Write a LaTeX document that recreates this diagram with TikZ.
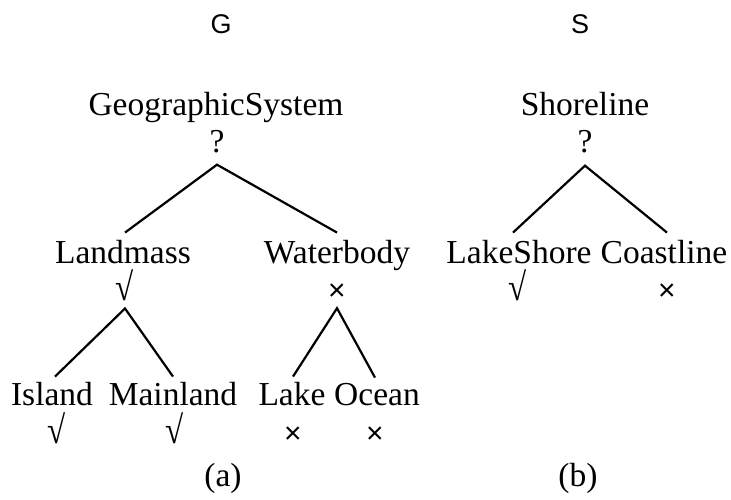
\documentclass[tikz,border=0pt]{standalone}
\usepackage{fontspec}
\usepackage{graphicx}
\setmainfont{Liberation Serif}
\newfontfamily\marksf{Liberation Sans}
\newcommand{\chk}{\scalebox{1.1}[1.3]{√}}
\begin{document}
\begin{tikzpicture}[x=1pt,y=-1pt,
  lbl/.style={font=\fontsize{33.5}{40}\selectfont, anchor=base, inner sep=0pt},
  mk/.style={font=\marksf\fontsize{30}{34}\selectfont, anchor=base, inner sep=0pt},
  ck/.style={font=\fontsize{30}{34}\selectfont, anchor=base, inner sep=0pt},
  qm/.style={font=\fontsize{33.5}{40}\selectfont, anchor=base, inner sep=0pt},
  ttl/.style={font=\marksf\fontsize{27}{30}\selectfont, anchor=base, inner sep=0pt},
  edge/.style={line width=2.2pt}]
\useasboundingbox (0,0) rectangle (731,499);
% titles
\node[ttl] (tG) at (221,33) {G};
\node[ttl] (tS) at (580,33) {S};
% tree (a)
\node[lbl] (gs) at (216,115) {GeographicSystem};
\node[qm]  (gsq) at (217,152) {?};
\node[lbl] (lm) at (123,263) {Landmass};
\node[ck]  (lmq) at (125,300) {\chk};
\node[lbl] (wb) at (337,263) {Waterbody};
\node[mk]  (wbq) at (337,300) {×};
\node[lbl] (isl) at (52,405) {Island};
\node[ck]  (islq) at (57,443) {\chk};
\node[lbl] (ml) at (173,405) {Mainland};
\node[ck]  (mlq) at (175,443) {\chk};
\node[lbl] (lk) at (292,405) {Lake};
\node[mk]  (lkq) at (293,443) {×};
\node[lbl] (oc) at (377,405) {Ocean};
\node[mk]  (ocq) at (375,443) {×};
% tree (b)
\node[lbl] (sh) at (585,115) {Shoreline};
\node[qm]  (shq) at (585,152) {?};
\node[lbl] (ls) at (519,263) {LakeShore};
\node[ck]  (lsq) at (518,300) {\chk};
\node[lbl] (cl) at (664,263) {Coastline};
\node[mk]  (clq) at (667,300) {×};
% captions
\node[lbl] (capa) at (223,486) {(a)};
\node[lbl] (capb) at (578,486) {(b)};
% apexes
\coordinate (gsA) at ([yshift=-12pt]gsq.south);
\coordinate (lmA) at ([yshift=-8pt]lmq.south);
\coordinate (wbA) at ([yshift=-8pt]wbq.south);
\coordinate (shA) at ([yshift=-13pt]shq.south);
% edges
\draw[edge] ([xshift=2pt,yshift=7pt]lm.north) -- (gsA) -- ([yshift=7pt]wb.north);
\draw[edge] ([xshift=3pt,yshift=5pt]isl.north) -- (lmA) -- ([yshift=5pt]ml.north);
\draw[edge] ([xshift=1pt,yshift=5pt]lk.north) -- (wbA) -- ([xshift=-2pt,yshift=5pt]oc.north);
\draw[edge] ([xshift=-6pt,yshift=7pt]ls.north) -- (shA) -- ([xshift=3pt,yshift=7pt]cl.north);
\end{tikzpicture}
\end{document}
